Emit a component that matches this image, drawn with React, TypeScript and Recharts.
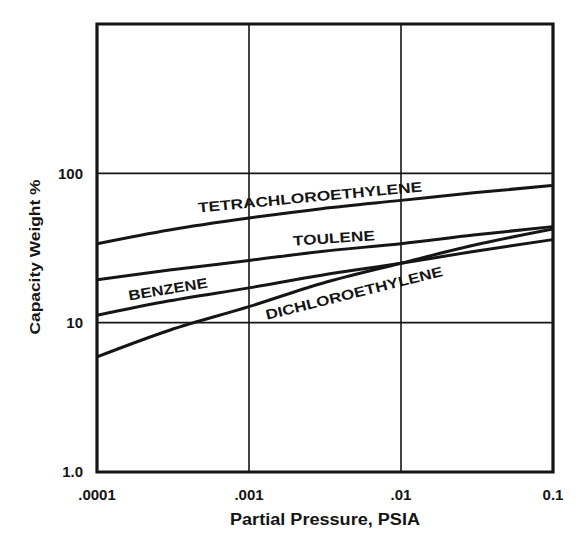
import React from 'react'
import { LineChart, Line, XAxis, YAxis, CartesianGrid, ReferenceArea, ReferenceDot } from 'recharts'

// partial pressure, PSIA
const pressure = [0.0001, 0.0003, 0.001, 0.003, 0.01, 0.03, 0.1]

// capacity weight %
const tetrachloroethylene = [33.8, 41.8, 50.2, 58, 65.9, 74, 83]
const toulene = [19.4, 22.5, 26.1, 30, 33.8, 38.6, 44]
const benzene = [11.2, 14, 17.1, 20.8, 25, 30, 36]
const dichloroethylene = [5.9, 8.9, 12.8, 18.3, 25, 33, 42.4]

const xTicks = [0.0001, 0.001, 0.01, 0.1]
const xTickLabels = ['.0001', '.001', '.01', '0.1']
const yTicks = [1, 10, 100]
const yTickLabels = ['1.0', '10', '100']

const curveNames = ['TETRACHLOROETHYLENE', 'TOULENE', 'BENZENE', 'DICHLOROETHYLENE']
const curveLabelX = [0.00252, 0.00362, 0.000293, 0.00491]
const curveLabelY = [69.4, 36.9, 16.8, 15.8]
const curveLabelAngle = [-5.4, -4, -9.3, -14]
const curveLabelLength = [225, 82, 80, 182]

const data = pressure.map((p, i) => ({
    p,
    tetra: tetrachloroethylene[i],
    toulene: toulene[i],
    benzene: benzene[i],
    dichloro: dichloroethylene[i],
}))

const ink = '#151515'
const font = '"Liberation Sans", Arial, sans-serif'

const CurveLabel = ({ viewBox, text, angle, length }: any) => {
    const cx = viewBox.x + (viewBox.width || 0) / 2
    const cy = viewBox.y + (viewBox.height || 0) / 2
    return (
        <text
            x={cx}
            y={cy}
            textAnchor="middle"
            dominantBaseline="central"
            transform={`rotate(${angle} ${cx} ${cy})`}
            fontFamily={font}
            fontWeight="bold"
            fontSize={14}
            fill={ink}
            textLength={length}
            lengthAdjust="spacingAndGlyphs"
        >
            {text}
        </text>
    )
}

// axis titles, placed against the plot's viewBox
const XTitle = ({ viewBox }: any) => {
    const cx = viewBox.x + viewBox.width / 2
    return (
        <text
            x={cx}
            y={519}
            textAnchor="middle"
            dominantBaseline="central"
            fontFamily={font}
            fontWeight="bold"
            fontSize={16}
            fill={ink}
            textLength={190}
            lengthAdjust="spacingAndGlyphs"
        >
            Partial Pressure, PSIA
        </text>
    )
}

const YTitle = () => (
    <text
        x={35}
        y={257}
        textAnchor="middle"
        dominantBaseline="central"
        transform="rotate(-90 35 257)"
        fontFamily={font}
        fontWeight="bold"
        fontSize={14}
        fill={ink}
        textLength={155}
        lengthAdjust="spacingAndGlyphs"
    >
        Capacity Weight %
    </text>
)

const App = () => {
    return (
        <div style={{ position: 'absolute', left: 0, top: 0, background: '#fff' }}>
            <LineChart
                width={583}
                height={537}
                data={data}
                margin={{ top: 24, right: 30, left: 0, bottom: 0 }}
            >
                <CartesianGrid stroke={ink} strokeWidth={1.6} />
                <XAxis
                    dataKey="p"
                    type="number"
                    scale="log"
                    domain={[0.0001, 0.1]}
                    ticks={xTicks}
                    allowDataOverflow
                    height={65}
                    axisLine={false}
                    tickLine={false}
                    tickSize={0}
                    tickMargin={17}
                    tickFormatter={(v: number) => xTickLabels[xTicks.indexOf(v)] ?? ''}
                    tick={{ fontSize: 15, fontWeight: 'bold', fill: ink, fontFamily: font }}
                    label={(props: any) => <XTitle {...props} />}
                />
                <YAxis
                    type="number"
                    scale="log"
                    domain={[1, 1000]}
                    ticks={yTicks}
                    allowDataOverflow
                    width={97}
                    axisLine={false}
                    tickLine={false}
                    tickSize={0}
                    tickMargin={14}
                    tickFormatter={(v: number) => yTickLabels[yTicks.indexOf(v)] ?? ''}
                    tick={{ fontSize: 15, fontWeight: 'bold', fill: ink, fontFamily: font }}
                    label={() => <YTitle />}
                />
                <ReferenceArea
                    x1={0.0001}
                    x2={0.1}
                    y1={1}
                    y2={1000}
                    fill="none"
                    fillOpacity={0}
                    stroke={ink}
                    strokeWidth={3.2}
                    ifOverflow="visible"
                />
                <Line dataKey="tetra" type="monotone" stroke={ink} strokeWidth={3} dot={false} isAnimationActive={false} />
                <Line dataKey="toulene" type="monotone" stroke={ink} strokeWidth={3} dot={false} isAnimationActive={false} />
                <Line dataKey="benzene" type="monotone" stroke={ink} strokeWidth={3} dot={false} isAnimationActive={false} />
                <Line dataKey="dichloro" type="monotone" stroke={ink} strokeWidth={3} dot={false} isAnimationActive={false} />
                {curveNames.map((name, i) => (
                    <ReferenceDot
                        key={name}
                        x={curveLabelX[i]}
                        y={curveLabelY[i]}
                        r={0}
                        fill="none"
                        stroke="none"
                        ifOverflow="visible"
                        label={(props: any) => (
                            <CurveLabel
                                {...props}
                                text={name}
                                angle={curveLabelAngle[i]}
                                length={curveLabelLength[i]}
                            />
                        )}
                    />
                ))}
            </LineChart>
        </div>
    )
}

export default App
